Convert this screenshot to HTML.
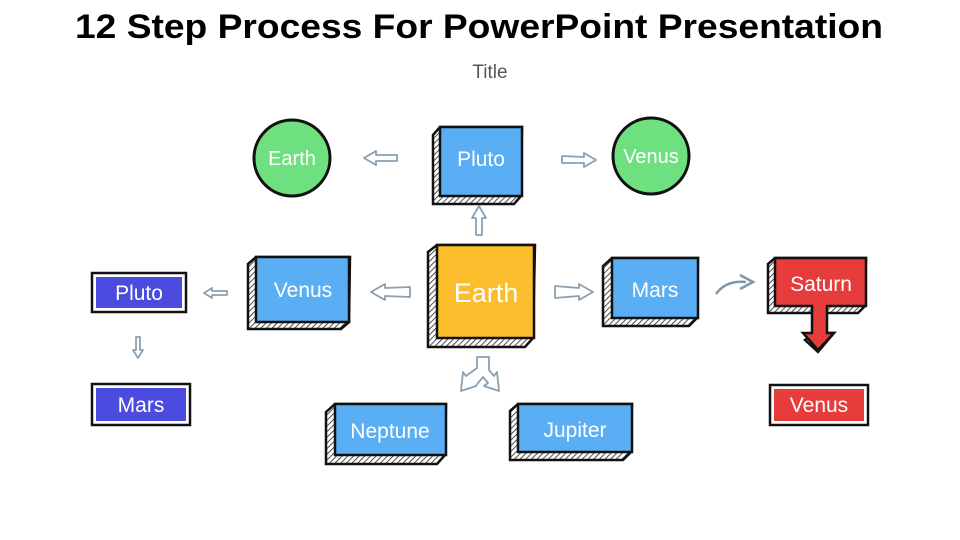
<!DOCTYPE html>
<html><head><meta charset="utf-8"><style>
body{margin:0;background:#fff;width:960px;height:540px;overflow:hidden}
svg{display:block}
text{font-family:"Liberation Sans",sans-serif}
</style></head><body>
<svg width="960" height="540" viewBox="0 0 960 540">
<defs>
<pattern id="h" width="4" height="4" patternUnits="userSpaceOnUse" patternTransform="rotate(45)">
<rect width="4" height="4" fill="#fff"/><line x1="0" y1="0" x2="0" y2="4" stroke="#222" stroke-width="1.6"/></pattern>
</defs>
<text x="479" y="38" font-size="34" font-weight="bold" text-anchor="middle" fill="#000" textLength="808" lengthAdjust="spacingAndGlyphs">12 Step Process For PowerPoint Presentation</text>
<text x="490" y="78" font-size="19" text-anchor="middle" fill="#555">Title</text>

<g stroke="#111" stroke-width="3">
<circle cx="292" cy="158" r="38" fill="#6ee07f"/>
<circle cx="651" cy="156" r="38" fill="#6ee07f"/>
</g>
<g fill="#fff" font-size="20" text-anchor="middle">
<text x="292" y="165">Earth</text>
<text x="651" y="163">Venus</text>
</g>

<g stroke="#111" stroke-width="2.5">
<polygon points="433,135 440,127 522,127 521,196 514,204 433,204" fill="url(#h)"/>
<rect x="440" y="127" width="82" height="69" fill="#5aaef4"/>
<polygon points="428,252 437,245 535,245 533,338 525,347 428,347" fill="url(#h)"/>
<rect x="437" y="245" width="97" height="93" fill="#fbbd2b"/>
<polygon points="248,264 256,257 350,257 349,322 341,329 248,329" fill="url(#h)"/>
<rect x="256" y="257" width="93" height="65" fill="#5aaef4"/>
<polygon points="603,266 612,258 698,258 697,318 689,326 603,326" fill="url(#h)"/>
<rect x="612" y="258" width="86" height="60" fill="#5aaef4"/>
<polygon points="326,412 335,404 446,404 445,455 437,464 326,464" fill="url(#h)"/>
<rect x="335" y="404" width="111" height="51" fill="#5aaef4"/>
<polygon points="510,411 518,404 632,404 631,452 623,460 510,460" fill="url(#h)"/>
<rect x="518" y="404" width="114" height="48" fill="#5aaef4"/>
<polygon points="768,264 775,258 866,258 865,306 858,313 768,313" fill="url(#h)"/>
<polygon points="805,340 818,352 834,333 825,333 825,306 815,306 815,333" fill="url(#h)"/>
<path d="M775,258 H866 V306 H827 V333 H834 L818,350 L803,333 H812 V306 H775 Z" fill="#e63c3c"/>
<rect x="92" y="273" width="94" height="39" fill="#fff"/>
<rect x="92" y="384" width="98" height="41" fill="#fff"/>
<rect x="770" y="385" width="98" height="40" fill="#fff"/>
</g>
<rect x="96" y="277" width="86" height="31" fill="#4b4be0"/>
<rect x="96" y="388" width="90" height="33" fill="#4b4be0"/>
<rect x="774" y="389" width="90" height="32" fill="#e63c3c"/>

<g fill="#fff" font-size="21" text-anchor="middle">
<text x="481" y="166">Pluto</text>
<text x="486" y="302" font-size="27">Earth</text>
<text x="303" y="297">Venus</text>
<text x="655" y="297">Mars</text>
<text x="390" y="438">Neptune</text>
<text x="575" y="437">Jupiter</text>
<text x="821" y="291">Saturn</text>
<text x="139" y="300">Pluto</text>
<text x="141" y="412">Mars</text>
<text x="819" y="412">Venus</text>
</g>

<g fill="#fff" stroke="#8aa0b0" stroke-width="1.8" stroke-linejoin="round">
<polygon points="364,158 376,151 376,155 397,155 397,161 376,161 376,165"/>
<polygon points="596,160 584,153 584,157 562,156 562,163 584,163 584,167"/>
<polygon points="479,206 486,218 482,218 482,235 476,235 476,218 472,218"/>
<polygon points="371,292 385,284 385,288 410,287 410,297 385,296 385,300"/>
<polygon points="593,292 579,284 579,288 555,286 555,298 579,296 579,300"/>
<polygon points="204,293 212,288 212,291 227,291 227,295 212,295 212,298"/>
<polygon points="138,358 133,350 136,350 136,337 140,337 140,350 143,350"/>
<path d="M477,357 H489 V370 L494,376 L497,372 L499,391 L484,386 L488,383 L483,377 L478,383 L476,386 L461,391 L463,372 L466,376 L477,368 Z"/>
</g>
<path d="M716,294 Q726,280 746,282" fill="none" stroke="#7f96ab" stroke-width="2.5"/>
<path d="M740,275 L753,282 L740,289" fill="none" stroke="#7f96ab" stroke-width="2.5"/>
</svg>
</body></html>
